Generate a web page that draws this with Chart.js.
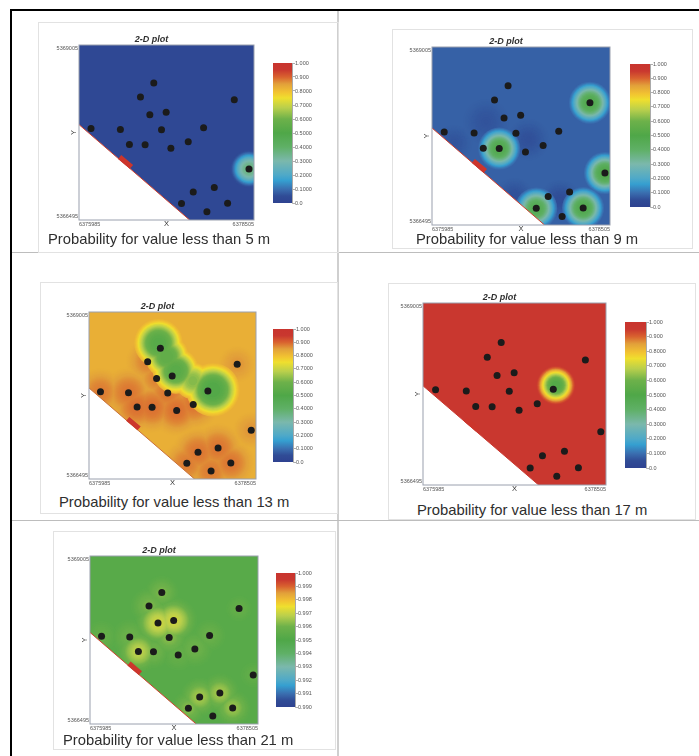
<!doctype html>
<html>
<head>
<meta charset="utf-8">
<title>Probability maps</title>
<script src="https://cdn.jsdelivr.net/npm/chart.js@4"></script>
<style>
  html, body { margin: 0; padding: 0; background: #fff; }
  body { position: relative; width: 699px; height: 756px; overflow: hidden; font-family: "Liberation Sans", Arial, sans-serif; }
  .rule, .frame, .caption, canvas { position: absolute; }
  .frame { border: 1px solid #e2e2e2; box-sizing: border-box; }
  .caption { font-size: 14.8px; line-height: 18px; color: #2e2e2e; white-space: nowrap; }
  canvas { filter: blur(0.5px); }
</style>
</head>
<body>
<script>
// map extent and axis labels
const xRange = [6375985, 6378505];
const yRange = [5366495, 5369005];
const xTickLabels = ["6375985", "6378505"];
const yTickLabels = ["5366495", "5369005"];

// wells
const wellX = [6377062, 6376870, 6378221, 6377005, 6377240, 6376158, 6376581, 6377173, 6377779, 6376711,
  6376937, 6377308, 6377558, 6378433, 6377933, 6377630, 6377461, 6378125, 6377827];
const wellY = [5368459, 5368258, 5368219, 5368004, 5368042, 5367807, 5367793, 5367788, 5367817, 5367578,
  5367573, 5367525, 5367616, 5367228, 5366960, 5366897, 5366730, 5366734, 5366615];

// no-data boundary and the red marker on it
const edgeX = [6375985, 6377578];
const edgeY = [5367863, 5366495];
const markerX = [6376570, 6376741];
const markerY = [5367399, 5367256];

// colour bars
const barTicks = [0, 0.1, 0.2, 0.3, 0.4, 0.5, 0.6, 0.7, 0.8, 0.9, 1];
const barLabels = ["0.0", "0.1000", "0.2000", "0.3000", "0.4000", "0.5000", "0.6000", "0.7000", "0.8000", "0.900", "1.000"];
const fineTicks = [0.99, 0.991, 0.992, 0.993, 0.994, 0.995, 0.996, 0.997, 0.998, 0.999, 1];
const fineLabels = ["0.990", "0.991", "0.992", "0.993", "0.994", "0.995", "0.996", "0.997", "0.998", "0.999", "1.000"];

// probability: background level, then spots around it
const base5 = 0.03;
const spot5Wells = [13];
const spot5Peak = [0.37];
const spot5Reach = [300];

const base9 = 0.08;
const spot9Wells = [2, 10, 13, 16, 17];
const spot9Peak = [0.49, 0.49, 0.5, 0.47, 0.49];
const spot9Reach = [330, 330, 330, 330, 330];
const low9X = [6376750, 6376300, 6377350, 6377150, 6377800];
const low9Y = [5367950, 5367650, 5367700, 5366900, 5366850];
const low9Peak = [0.06, 0.06, 0.055, 0.055, 0.05];
const low9Reach = [380, 300, 340, 300, 320];

const base13 = 0.825;
const red13Wells = [5, 6, 9, 10, 11, 12, 7, 3, 1, 14, 15, 16, 17, 18, 2, 13];
const red13Peak = [0.88, 0.885, 0.89, 0.89, 0.89, 0.885, 0.885, 0.875, 0.875, 0.885, 0.885, 0.88, 0.885, 0.88, 0.86, 0.86];
const red13Reach = [400, 430, 430, 430, 430, 430, 400, 350, 370, 420, 430, 400, 400, 400, 320, 320];
const green13X = [6377033, 6377159, 6377295, 6377552, 6377855];
const green13Y = [5368538, 5368337, 5368121, 5367971, 5367835];
const green13Peak = [0.52, 0.55, 0.53, 0.62, 0.5];
const green13Reach = [400, 360, 380, 310, 440];

const base17 = 0.96;
const spot17X = [6377815];
const spot17Y = [5367870];
const spot17Peak = [0.5];
const spot17Reach = [295];

const base21 = 0.9953;
const spot21Wells = [3, 4, 7, 9, 10, 6, 5, 0, 1, 2, 8, 12, 11, 14, 15, 16, 17, 13];
const spot21Peak = [0.9971, 0.9971, 0.9963, 0.9969, 0.9961, 0.996, 0.9958, 0.9962, 0.9962, 0.9958, 0.9959, 0.996, 0.9958, 0.9966, 0.9966, 0.9963, 0.9965, 0.9957];
const spot21Reach = [400, 400, 340, 370, 300, 330, 300, 300, 330, 250, 300, 330, 300, 340, 340, 300, 320, 250];

// colour bar stops
const rampPos = [0, 0.05, 0.1, 0.16, 0.2, 0.3, 0.4, 0.5, 0.6, 0.68, 0.75, 0.79, 0.85, 0.9, 0.95, 1];
const rampCol = ["#2e4290", "#304c96", "#3a6fb0", "#359fd0", "#4fa9c8", "#7bb8ac", "#5fb066", "#4fa748", "#6db14a",
  "#b9cf4c", "#efdf2e", "#f2c431", "#e2a03a", "#d9622f", "#c9382f", "#c8342e"];

function hexRgb(hex) {
  return [1, 3, 5].map((i) => parseInt(hex.slice(i, i + 2), 16));
}

function rampColor(f) {
  const v = Math.min(1, Math.max(0, f));
  let i = 0;
  while (i < rampPos.length - 2 && v > rampPos[i + 1]) i++;
  const k = (v - rampPos[i]) / (rampPos[i + 1] - rampPos[i]);
  const a = hexRgb(rampCol[i]);
  const b = hexRgb(rampCol[i + 1]);
  const c = a.map((n, j) => Math.round(n + (b[j] - n) * k));
  return `rgb(${c[0]},${c[1]},${c[2]})`;
}

function pick(list, idx) {
  return idx.map((i) => list[i]);
}

// one spot group is a stack of discs, one per level, so that nearby spots run together
function spotLayers(group, base, lo, hi) {
  const levels = 26;
  const falloff = group.falloff || 1.3;
  const top = group.peak.reduce((m, p) => (Math.abs(p - base) > Math.abs(m - base) ? p : m), base);
  const points = group.x.map((x, i) => ({ x, y: group.y[i] }));
  const layers = [];
  for (let k = 1; k <= levels; k++) {
    const level = base + ((top - base) * k) / levels;
    layers.push({
      data: points,
      pointBackgroundColor: rampColor((level - lo) / (hi - lo)),
      pointBorderWidth: 0,
      pointRadius: (ctx) => {
        const i = ctx.dataIndex;
        const s = (level - base) / (group.peak[i] - base);
        if (s > 1) return 0;
        const t = Math.pow(Math.acos(2 * s - 1) / Math.PI, 1 / falloff);
        return (group.reach[i] * t * ctx.chart.scales.x.width) / (xRange[1] - xRange[0]);
      },
    });
  }
  return layers;
}

const panels = [
  {
    id: "5", plot: [79, 45, 175, 175], bar: [273, 63, 19, 140], frame: [38, 22, 301, 231], caption: [48, 230], edge: "#d2402f",
    base: base5, groups: [{ x: pick(wellX, spot5Wells), y: pick(wellY, spot5Wells), peak: spot5Peak, reach: spot5Reach }],
    ticks: barTicks, labels: barLabels, lo: 0, hi: 1,
  },
  {
    id: "9", plot: [432, 47, 178, 178], bar: [630, 64, 20, 143], frame: [392, 29, 301, 220], caption: [416, 230], edge: "#d2402f",
    base: base9,
    groups: [
      { x: low9X, y: low9Y, peak: low9Peak, reach: low9Reach, falloff: 1 },
      { x: pick(wellX, spot9Wells), y: pick(wellY, spot9Wells), peak: spot9Peak, reach: spot9Reach },
    ],
    ticks: barTicks, labels: barLabels, lo: 0, hi: 1,
  },
  {
    id: "13", plot: [89, 312, 167, 167], bar: [273, 329, 20, 133], frame: [40, 282, 298, 232], caption: [59, 493], edge: "#c9703a",
    base: base13,
    groups: [
      { x: pick(wellX, red13Wells), y: pick(wellY, red13Wells), peak: red13Peak, reach: red13Reach, falloff: 1.2 },
      { x: green13X, y: green13Y, peak: green13Peak, reach: green13Reach, falloff: 1.5 },
    ],
    ticks: barTicks, labels: barLabels, lo: 0, hi: 1,
  },
  {
    id: "17", plot: [423, 303, 183, 182], bar: [625, 322, 21, 146], frame: [388, 283, 308, 237], caption: [417, 501], edge: "#c9382f",
    base: base17, groups: [{ x: spot17X, y: spot17Y, peak: spot17Peak, reach: spot17Reach }],
    ticks: barTicks, labels: barLabels, lo: 0, hi: 1,
  },
  {
    id: "21", plot: [90, 556, 168, 168], bar: [276, 573, 19, 134], frame: [53, 531, 283, 219], caption: [63, 731], edge: "#d2402f",
    base: base21, groups: [{ x: pick(wellX, spot21Wells), y: pick(wellY, spot21Wells), peak: spot21Peak, reach: spot21Reach, falloff: 1.1 }],
    ticks: fineTicks, labels: fineLabels, lo: 0.99, hi: 1,
  },
];

function addDiv(cls, left, top, width, height, text) {
  const el = document.createElement("div");
  el.className = cls;
  el.style.left = left + "px";
  el.style.top = top + "px";
  if (width) el.style.width = width + "px";
  if (height) el.style.height = height + "px";
  if (text) el.textContent = text;
  document.body.appendChild(el);
  return el;
}

function addCanvas(left, top, width, height) {
  const c = document.createElement("canvas");
  c.width = width;
  c.height = height;
  c.style.left = left + "px";
  c.style.top = top + "px";
  c.style.width = width + "px";
  c.style.height = height + "px";
  document.body.appendChild(c);
  return c;
}

// table rules behind the panels
addDiv("rule", 10, 9, 689, 2).style.background = "#000";
addDiv("rule", 10, 9, 2, 747).style.background = "#000";
addDiv("rule", 337, 11, 2, 745).style.background = "#cfcfcf";
addDiv("rule", 12, 252, 687, 1).style.background = "#bdbdbd";
addDiv("rule", 12, 520, 687, 1).style.background = "#bdbdbd";

const tickFont = { family: "'Liberation Sans', Arial, sans-serif", size: 5.5 };

function drawMap(p) {
  const [left, top, w, h] = p.plot;
  const yAxisW = 30;
  const titleH = 10;
  const xAxisH = 11;
  const rightPad = 38;
  const canvas = addCanvas(left - yAxisW, top - titleH, yAxisW + w + rightPad, titleH + h + xAxisH);
  const hi = p.hi;
  const lo = p.lo;

  const datasets = [];
  p.groups.forEach((g) => datasets.push(...spotLayers(g, p.base, lo, hi)));
  datasets.push({
    type: "line",
    data: edgeX.map((x, i) => ({ x, y: edgeY[i] })),
    fill: "start",
    backgroundColor: "#fff",
    borderColor: p.edge,
    borderWidth: 1,
    pointRadius: 0,
  });
  datasets.push({
    type: "line",
    data: markerX.map((x, i) => ({ x, y: markerY[i] })),
    borderColor: "#cc352c",
    borderWidth: 5,
    borderCapStyle: "butt",
    pointRadius: 0,
  });
  datasets.push({
    data: wellX.map((x, i) => ({ x, y: wellY[i] })),
    pointBackgroundColor: "#1b1b1b",
    pointBorderWidth: 0,
    pointRadius: 3.5,
  });
  // chart.js paints the first dataset last
  datasets.reverse();

  new Chart(canvas, {
    type: "scatter",
    data: { datasets },
    plugins: [
      {
        id: "field",
        beforeDatasetsDraw(chart) {
          const a = chart.chartArea;
          chart.ctx.fillStyle = rampColor((p.base - lo) / (hi - lo));
          chart.ctx.fillRect(a.left, a.top, a.width, a.height);
        },
        afterDatasetsDraw(chart) {
          const a = chart.chartArea;
          chart.ctx.strokeStyle = "#9aa0ae";
          chart.ctx.lineWidth = 1;
          chart.ctx.strokeRect(a.left, a.top, a.width, a.height);
        },
      },
    ],
    options: {
      responsive: false,
      animation: false,
      events: [],
      layout: { padding: { right: rightPad } },
      plugins: {
        legend: { display: false },
        tooltip: { enabled: false },
        filler: { drawTime: "beforeDatasetDraw" },
        title: {
          display: true,
          text: "2-D plot",
          color: "#2f2f2f",
          padding: { top: 0, bottom: 1 },
          font: { family: "'Liberation Sans', Arial, sans-serif", size: 9, style: "italic", weight: "bold", lineHeight: 1 },
        },
      },
      scales: {
        x: {
          min: xRange[0],
          max: xRange[1],
          grid: { display: false, drawTicks: false },
          border: { display: false },
          afterBuildTicks: (s) => { s.ticks = xRange.map((value) => ({ value })); },
          afterFit: (s) => { s.height = xAxisH; s.paddingLeft = 0; s.paddingRight = 0; },
          ticks: {
            align: "inner",
            autoSkip: false,
            maxRotation: 0,
            padding: 1,
            color: "#555",
            font: tickFont,
            callback: (v, i) => xTickLabels[i],
          },
          title: {
            display: true,
            text: "X",
            color: "#333",
            padding: { top: 0, bottom: 3 },
            font: { family: "'Liberation Sans', Arial, sans-serif", size: 7.5 },
          },
        },
        y: {
          min: yRange[0],
          max: yRange[1],
          grid: { display: false, drawTicks: false },
          border: { display: false },
          // corner labels sit just inside the plot's height
          afterBuildTicks: (s) => { s.ticks = [{ value: yRange[0] + 50 }, { value: yRange[1] - 50 }]; },
          afterFit: (s) => { s.width = yAxisW; s.paddingTop = 0; s.paddingBottom = 0; },
          ticks: {
            autoSkip: false,
            padding: 1,
            color: "#555",
            font: tickFont,
            callback: (v, i) => yTickLabels[i],
          },
          title: {
            display: true,
            text: "Y",
            color: "#333",
            padding: { top: 20, bottom: 0 },
            font: { family: "'Liberation Sans', Arial, sans-serif", size: 7.5 },
          },
        },
      },
    },
  });
}

function drawBar(p) {
  const [left, top, w, h] = p.bar;
  const pad = 4;
  const axisW = 28;
  const canvas = addCanvas(left, top - pad, w + axisW, h + pad * 2);
  new Chart(canvas, {
    type: "bar",
    data: {
      labels: [p.id],
      datasets: [
        {
          data: [[p.lo, p.hi]],
          barPercentage: 1,
          categoryPercentage: 1,
          borderWidth: 0,
          backgroundColor: (ctx) => {
            const a = ctx.chart.chartArea;
            if (!a) return "#888";
            const g = ctx.chart.ctx.createLinearGradient(0, a.bottom, 0, a.top);
            rampPos.forEach((pos, i) => g.addColorStop(pos, rampCol[i]));
            return g;
          },
        },
      ],
    },
    options: {
      responsive: false,
      animation: false,
      events: [],
      layout: { padding: { top: pad, bottom: pad } },
      plugins: { legend: { display: false }, tooltip: { enabled: false } },
      scales: {
        x: { display: false },
        y: {
          position: "right",
          min: p.lo,
          max: p.hi,
          grid: { drawOnChartArea: false, tickLength: 3, color: "#777", lineWidth: 0.6 },
          border: { color: "#aaa" },
          afterBuildTicks: (s) => { s.ticks = p.ticks.map((value) => ({ value })); },
          afterFit: (s) => { s.width = axisW; s.paddingTop = 0; s.paddingBottom = 0; },
          ticks: {
            autoSkip: false,
            padding: 0,
            color: "#555",
            font: tickFont,
            callback: (v, i) => p.labels[i],
          },
        },
      },
    },
  });
}

panels.forEach((p) => {
  addDiv("frame", p.frame[0], p.frame[1], p.frame[2], p.frame[3]);
  drawMap(p);
  drawBar(p);
  addDiv("caption", p.caption[0], p.caption[1], 0, 0, `Probability for value less than ${p.id} m`);
});
</script>
</body>
</html>
